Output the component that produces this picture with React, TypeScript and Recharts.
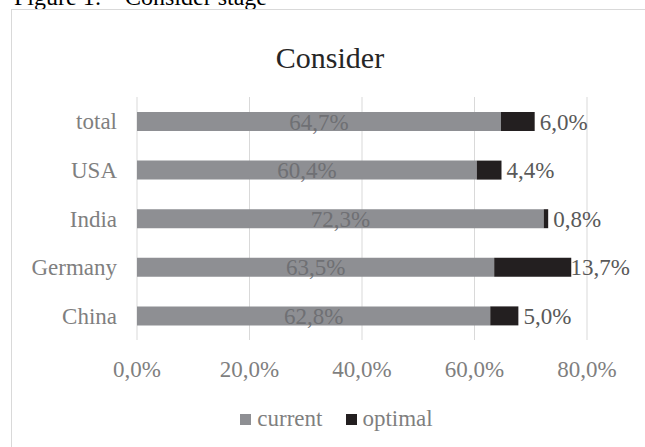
import React from 'react';
import { BarChart, Bar, XAxis, YAxis, CartesianGrid, LabelList, Legend } from 'recharts';

const categories = ['total', 'USA', 'India', 'Germany', 'China'];
const currentValues = [64.7, 60.4, 72.3, 63.5, 62.8];
const optimalValues = [6.0, 4.4, 0.8, 13.7, 5.0];
const xTicks = [0, 20, 40, 60, 80];
const seriesNames = ['current', 'optimal'];

const data = categories.map((c, i) => ({
  name: c,
  current: currentValues[i],
  optimal: optimalValues[i],
}));

const FONT = '"Liberation Serif", "Times New Roman", serif';
const GRAY = '#8e8f93';
const DARK = '#231f20';
const AXIS_TEXT = '#7f7f7f';

const fmt = (v: number) => Number(v).toFixed(1).replace('.', ',') + '%';

const OptimalLabel = (props: any) => {
  const vb = props.viewBox || props;
  const x = Number(vb.x ?? props.x);
  const y = Number(vb.y ?? props.y);
  const w = Number(vb.width ?? props.width);
  const h = Number(vb.height ?? props.height);
  return (
    <text
      x={x + w + 29}
      y={y + h / 2}
      dy="0.35em"
      textAnchor="middle"
      fontFamily={FONT}
      fontSize={23}
      fill="#595959"
    >
      {fmt(props.value)}
    </text>
  );
};

const renderLegend = () => (
  <div
    style={{
      display: 'flex',
      justifyContent: 'center',
      alignItems: 'center',
      fontFamily: FONT,
      fontSize: 23,
      color: AXIS_TEXT,
      lineHeight: '26px',
    }}
  >
    <span style={{ display: 'inline-block', width: 11, height: 11, background: GRAY, marginRight: 6 }} />
    <span>{seriesNames[0]}</span>
    <span style={{ display: 'inline-block', width: 11, height: 11, background: DARK, marginLeft: 24, marginRight: 5 }} />
    <span>{seriesNames[1]}</span>
  </div>
);

export default function App() {
  return (
    <div
      style={{
        position: 'absolute',
        left: 0,
        top: 0,
        width: 645,
        height: 447,
        overflow: 'hidden',
        background: '#ffffff',
      }}
    >
      <svg width={645} height={447} style={{ position: 'absolute', left: 0, top: 0 }}>
        <text x={14} y={5} fontFamily={FONT} fontSize={24} fill="#000000">
          Figure 1:
          <tspan x={125}>Consider stage</tspan>
        </text>
        <rect x={11.5} y={9.5} width={640} height={450} fill="none" stroke="#d9d9d9" strokeWidth={1} />
        <text x={330} y={68} textAnchor="middle" fontFamily={FONT} fontSize={30} fill="#262626">
          Consider
        </text>
      </svg>
      <div style={{ position: 'absolute', left: 0, top: 0 }}>
        <BarChart
          width={645}
          height={447}
          data={data}
          layout="vertical"
          margin={{ top: 97, right: 58, bottom: 67, left: 12 }}
        >
          <CartesianGrid horizontal={false} vertical={true} stroke="#d9d9d9" strokeWidth={1} />
          <XAxis
            type="number"
            domain={[0, 80]}
            ticks={xTicks}
            tickFormatter={(v: number) => fmt(v)}
            axisLine={false}
            tickLine={false}
            tickSize={0}
            tickMargin={21}
            height={40}
            tick={{ fill: AXIS_TEXT, fontSize: 23, fontFamily: FONT }}
          />
          <YAxis
            type="category"
            dataKey="name"
            width={125}
            axisLine={false}
            tickLine={false}
            tickSize={0}
            tickMargin={20}
            interval={0}
            tick={{ fill: AXIS_TEXT, fontSize: 23, fontFamily: FONT }}
          />
          <Legend
            content={renderLegend}
            layout="horizontal"
            verticalAlign="middle"
            align="center"
            wrapperStyle={{ top: 406, left: 14, width: 645 }}
          />
          <Bar dataKey="current" name={seriesNames[0]} stackId="a" fill={GRAY} barSize={19} isAnimationActive={false}>
            <LabelList
              dataKey="current"
              position="center"
              formatter={(v: any) => fmt(v)}
              fill="#6f7074"
              fontSize={23}
              fontFamily={FONT}
            />
          </Bar>
          <Bar dataKey="optimal" name={seriesNames[1]} stackId="a" fill={DARK} barSize={19} isAnimationActive={false}>
            <LabelList dataKey="optimal" content={OptimalLabel} />
          </Bar>
        </BarChart>
      </div>
    </div>
  );
}
